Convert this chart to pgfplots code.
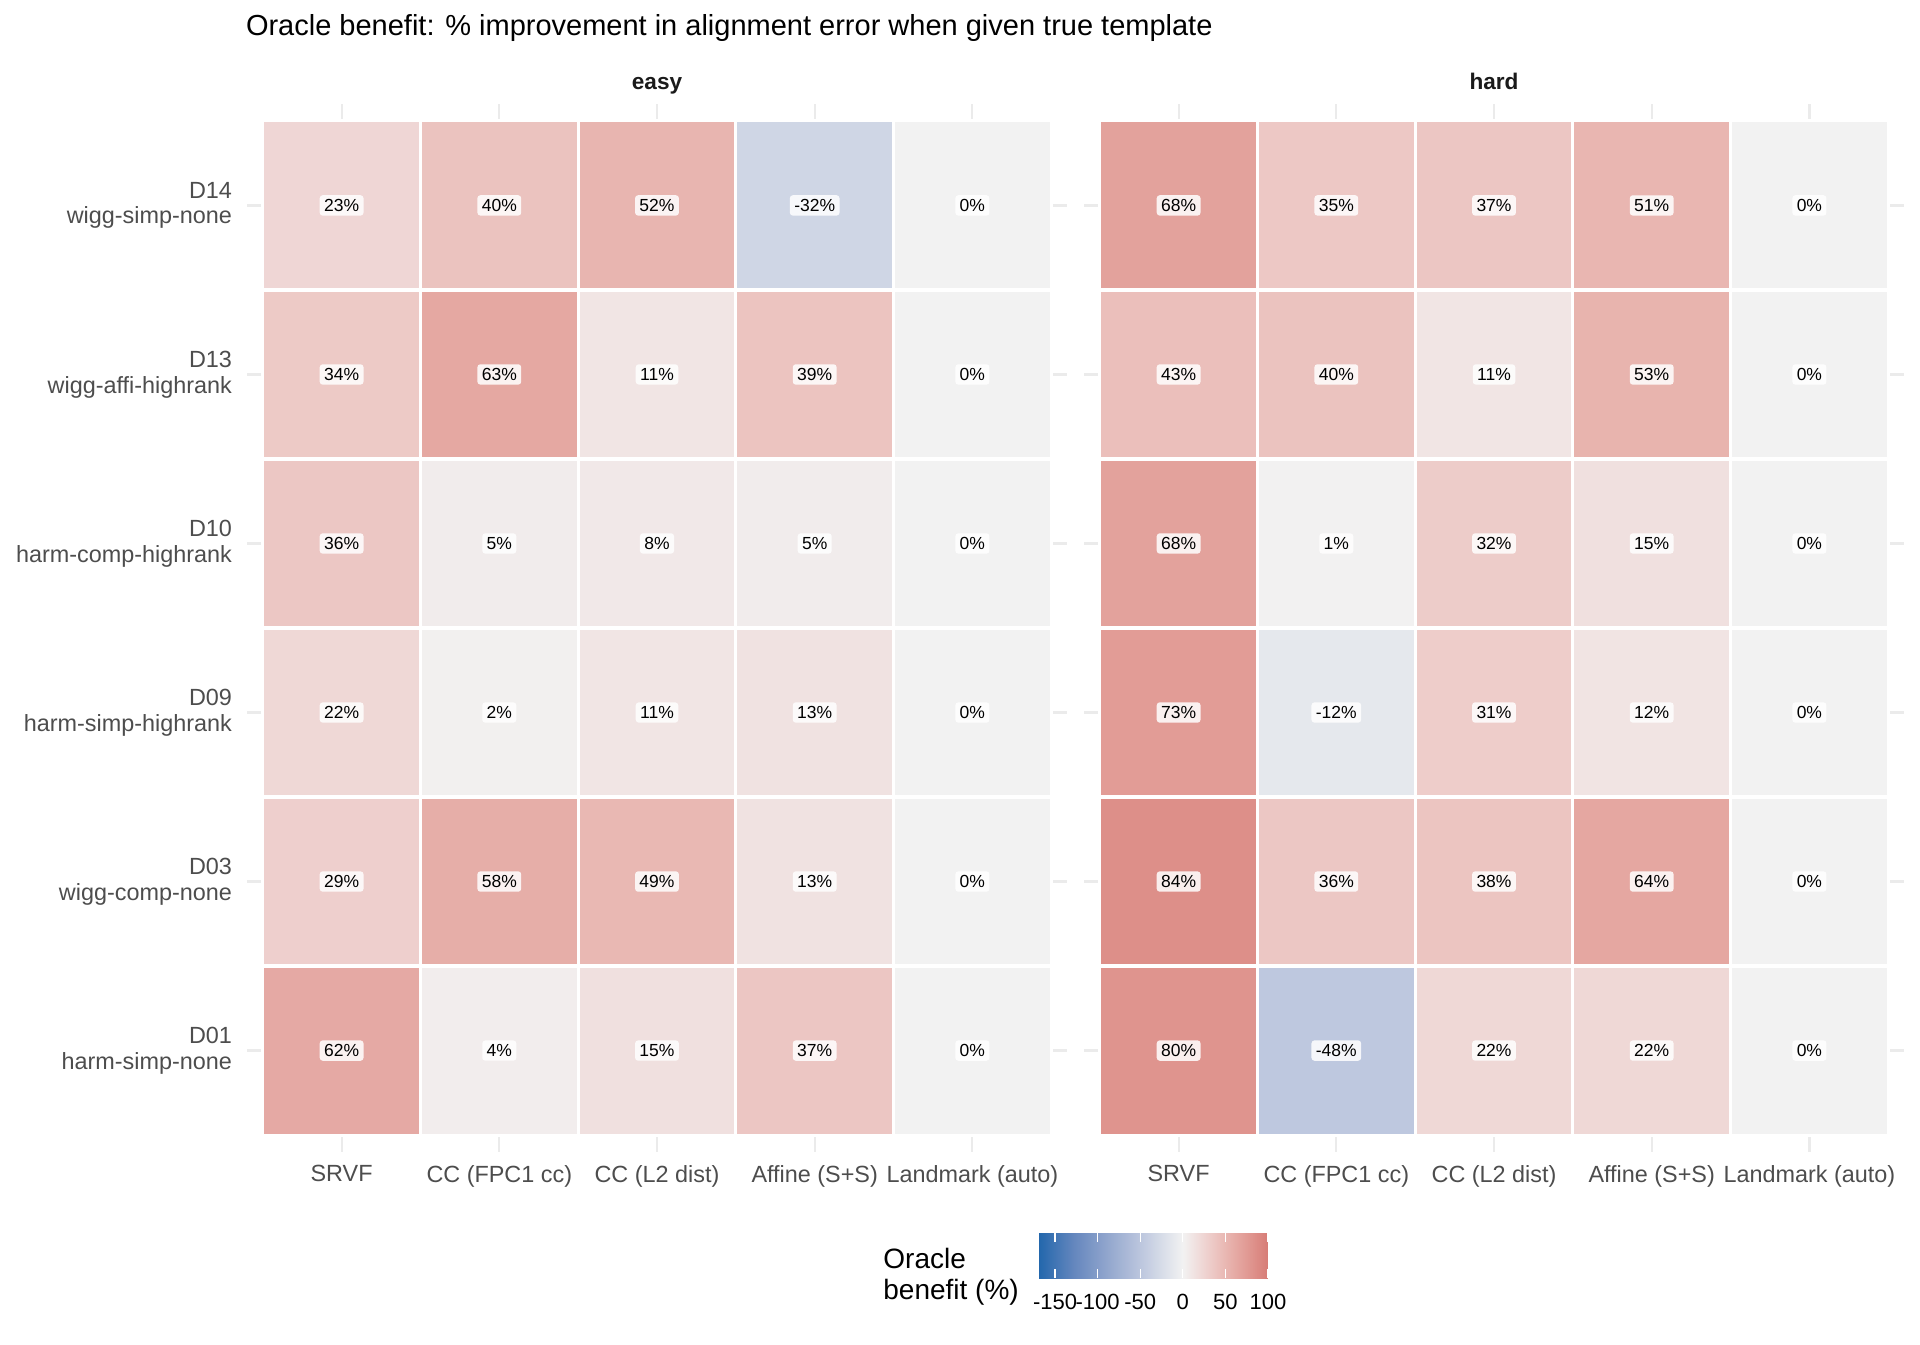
\documentclass[border=0pt]{standalone}
\usepackage{pgfplots}
\pgfplotsset{compat=1.18}
\usepackage{pgfplotstable}
\usepackage{fontspec}
\setmainfont{Liberation Sans}

\definecolor{gridgrey}{RGB}{235,235,235}
\definecolor{ticktext}{RGB}{77,77,77}
\definecolor{striptext}{RGB}{26,26,26}

% one tile = one category step (410pt/5.2 by 524pt/6.2)
\pgfdeclareplotmark{cell}{%
  \pgfpathrectangle{\pgfpoint{-39.42pt}{-42.26pt}}{\pgfpoint{78.85pt}{84.52pt}}%
  \pgfusepathqfillstroke}

% diverging map, -170 ... 0 ... 100
\pgfplotsset{colormap={oracle}{rgb255(0pt)=(33,102,172) rgb255(17pt)=(101,135,190)
  rgb255(34pt)=(150,169,207) rgb255(51pt)=(196,205,225) rgb255(68pt)=(242,242,242)
  rgb255(78pt)=(239,212,210) rgb255(88pt)=(233,183,178) rgb255(98pt)=(225,154,148)
  rgb255(108pt)=(215,124,118)}}

% x: 1 SRVF, 2 CC (FPC1 cc), 3 CC (L2 dist), 4 Affine (S+S), 5 Landmark (auto)
% y: 1 D01, 2 D03, 3 D09, 4 D10, 5 D13, 6 D14
\pgfplotstableread{
x y v
1 6 23
2 6 40
3 6 52
4 6 -32
5 6 0
1 5 34
2 5 63
3 5 11
4 5 39
5 5 0
1 4 36
2 4 5
3 4 8
4 4 5
5 4 0
1 3 22
2 3 2
3 3 11
4 3 13
5 3 0
1 2 29
2 2 58
3 2 49
4 2 13
5 2 0
1 1 62
2 1 4
3 1 15
4 1 37
5 1 0
}\easytab

\pgfplotstableread{
x y v
1 6 68
2 6 35
3 6 37
4 6 51
5 6 0
1 5 43
2 5 40
3 5 11
4 5 53
5 5 0
1 4 68
2 4 1
3 4 32
4 4 15
5 4 0
1 3 73
2 3 -12
3 3 31
4 3 12
5 3 0
1 2 84
2 2 36
3 2 38
4 2 64
5 2 0
1 1 80
2 1 -48
3 1 22
4 1 22
5 1 0
}\hardtab

\pgfplotsset{
  panel/.style={
    anchor=south west, scale only axis, width=410pt, height=524pt,
    xmin=0.4, xmax=5.6, ymin=0.4, ymax=6.6,
    xtick={1,...,5}, ytick={1,...,6},
    xticklabels={SRVF, CC (FPC1 cc), CC (L2 dist), Affine (S+S), Landmark (auto)},
    grid=major, major grid style={gridgrey, line width=1.1pt},
    axis line style={draw=none}, major tick length=0pt, tick style={draw=none},
    colormap name=oracle, point meta min=-170, point meta max=100,
    ticklabel style={font=\fontsize{11.7}{12.9}\selectfont, text=ticktext},
    xticklabel style={yshift=-3pt},
  },
  tiles/.style={scatter, only marks, mark=cell, line width=1.6pt,
    point meta=explicit, scatter/use mapped color={draw=white, fill=mapped color}},
  cellnums/.style={draw=none, mark=none, point meta=explicit symbolic,
    nodes near coords={\pgfplotspointmeta\%},
    every node near coord/.style={anchor=center, fill=white, fill opacity=0.85,
      text opacity=1, rounded corners=1.5pt, inner xsep=2.2pt, inner ysep=2pt,
      font=\fontsize{8.75}{10}\selectfont, text=black}},
}

\begin{document}
\begin{tikzpicture}
\useasboundingbox (0,0) rectangle (960pt,672pt);

\begin{axis}[panel, at={(123.5pt,96pt)},
    yticklabels={{D01\\harm-simp-none}, {D03\\wigg-comp-none}, {D09\\harm-simp-highrank},
      {D10\\harm-comp-highrank}, {D13\\wigg-affi-highrank}, {D14\\wigg-simp-none}},
    yticklabel style={align=right, xshift=-4pt}]
\addplot[tiles] table[x=x, y=y, meta=v] {\easytab};
\addplot[cellnums] table[x=x, y=y, meta=v] {\easytab};
\end{axis}

\begin{axis}[panel, at={(542pt,96pt)}, yticklabels={}]
\addplot[tiles] table[x=x, y=y, meta=v] {\hardtab};
\addplot[cellnums] table[x=x, y=y, meta=v] {\hardtab};
\end{axis}

% colour bar
\begin{axis}[at={(519pt,41.5pt)}, anchor=south west, scale only axis,
    width=115pt, height=22.5pt, hide axis, xmin=0, xmax=1, ymin=0, ymax=1,
    colormap name=oracle, point meta min=-170, point meta max=100,
    colorbar horizontal, colorbar/width=22.5pt,
    colorbar style={at={(parent axis.south west)}, anchor=south west,
      scale only axis, width=115pt,
      xtick={-150,-100,-50,0,50,100}, xtick pos=both, xticklabel pos=lower,
      xtick align=inside, major tick length=4.5pt,
      every tick/.style={white, line width=0.6pt},
      axis line style={draw=none},
      /pgf/number format/assume math mode=true,
      xticklabel style={font=\fontsize{11}{12}\selectfont, text=black, yshift=-4.3pt}}]
\addplot[draw=none] coordinates {(0.5,0.5)};
\end{axis}

\node[anchor=base west, inner sep=0pt, font=\fontsize{14.5}{16}\selectfont] at (122.8pt,654pt)
  {Oracle benefit: \% improvement in alignment error when given true template};
\node[anchor=base, font=\fontsize{11.3}{13}\selectfont\bfseries, text=striptext] at (328.5pt,627pt) {easy};
\node[anchor=base, font=\fontsize{11.3}{13}\selectfont\bfseries, text=striptext] at (747pt,627pt) {hard};
\node[anchor=base west, inner sep=0pt, font=\fontsize{14}{16}\selectfont] at (441.5pt,38pt) {Oracle};
\node[anchor=base west, inner sep=0pt, font=\fontsize{14}{16}\selectfont] at (441.5pt,22.5pt) {benefit (\%)};
\end{tikzpicture}
\end{document}
